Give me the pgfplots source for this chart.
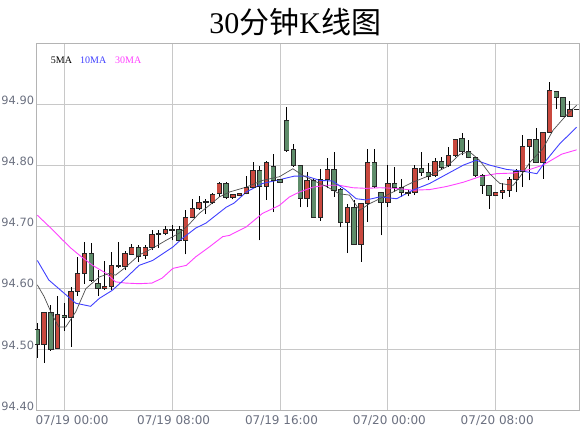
\documentclass[border=0pt]{standalone}
\usepackage{fontspec}
\setmainfont{DejaVu Sans}
\newfontfamily\cjk{Noto Sans CJK SC}
\newfontfamily\tserif{Liberation Serif}
\usepackage{pgfplots}
\usepackage{pgfplotstable}
\pgfplotsset{compat=1.18}

\definecolor{upred}{HTML}{C9483E}
\definecolor{downgreen}{HTML}{5E8C6A}
\definecolor{edge}{HTML}{262626}
\definecolor{tickgray}{HTML}{6B7080}
\definecolor{gridgray}{HTML}{C8C8C8}
\definecolor{ma5}{HTML}{505050}
\definecolor{ma10}{HTML}{4040FF}
\definecolor{ma30}{HTML}{FF40FF}

% 30 min candles: index, open, high, low, close
\pgfplotstableread{
i o h l c
1 94.508 94.560 94.478 94.560
3 94.501 94.587 94.501 94.556
5 94.552 94.602 94.504 94.595
6 94.595 94.651 94.587 94.624
7 94.624 94.675 94.607 94.656
10 94.599 94.644 94.597 94.603
11 94.603 94.659 94.597 94.637
12 94.635 94.675 94.632 94.637
13 94.635 94.660 94.629 94.656
14 94.655 94.672 94.654 94.667
16 94.653 94.670 94.647 94.666
17 94.666 94.695 94.662 94.688
18 94.687 94.695 94.665 94.689
19 94.689 94.701 94.686 94.696
20 94.695 94.703 94.678 94.696
22 94.678 94.728 94.655 94.715
23 94.715 94.746 94.714 94.730
24 94.730 94.750 94.728 94.740
25 94.740 94.746 94.721 94.741
26 94.740 94.755 94.737 94.753
27 94.754 94.773 94.749 94.771
29 94.748 94.754 94.745 94.753
30 94.752 94.756 94.750 94.755
31 94.755 94.783 94.753 94.764
32 94.764 94.806 94.763 94.793
34 94.766 94.808 94.744 94.805
40 94.746 94.790 94.732 94.776
42 94.716 94.795 94.710 94.777
43 94.777 94.813 94.763 94.794
46 94.708 94.738 94.657 94.732
48 94.672 94.738 94.643 94.738
49 94.738 94.828 94.708 94.805
52 94.740 94.801 94.733 94.771
56 94.756 94.801 94.752 94.795
59 94.784 94.812 94.782 94.807
61 94.800 94.831 94.798 94.817
62 94.817 94.844 94.815 94.843
68 94.752 94.757 94.751 94.756
69 94.756 94.771 94.746 94.760
70 94.760 94.782 94.749 94.777
71 94.777 94.795 94.757 94.791
72 94.791 94.850 94.765 94.832
73 94.832 94.844 94.776 94.843
75 94.806 94.854 94.779 94.854
76 94.854 94.937 94.854 94.923
79 94.881 94.906 94.880 94.892
80 94.892 94.893 94.891 94.892
}\up

\pgfplotstableread{
i o h l c
0 94.532 94.542 94.486 94.508
2 94.560 94.572 94.497 94.500
4 94.555 94.575 94.530 94.552
8 94.656 94.673 94.610 94.613
9 94.607 94.630 94.587 94.599
15 94.666 94.670 94.643 94.652
21 94.696 94.701 94.677 94.678
28 94.771 94.773 94.745 94.748
33 94.793 94.799 94.678 94.766
35 94.799 94.819 94.724 94.776
36 94.777 94.778 94.772 94.772
37 94.874 94.896 94.823 94.825
38 94.826 94.835 94.798 94.800
39 94.800 94.801 94.732 94.746
41 94.776 94.778 94.716 94.716
44 94.794 94.823 94.749 94.759
45 94.761 94.763 94.699 94.708
47 94.732 94.744 94.672 94.672
50 94.805 94.828 94.763 94.766
51 94.757 94.757 94.686 94.740
53 94.771 94.798 94.757 94.765
54 94.765 94.779 94.749 94.756
55 94.756 94.760 94.750 94.755
57 94.795 94.823 94.783 94.789
58 94.789 94.805 94.776 94.783
60 94.807 94.815 94.795 94.798
63 94.844 94.854 94.817 94.823
64 94.823 94.842 94.812 94.814
65 94.814 94.815 94.782 94.784
66 94.784 94.787 94.754 94.768
67 94.768 94.768 94.730 94.752
74 94.843 94.861 94.806 94.806
77 94.921 94.923 94.893 94.911
78 94.911 94.913 94.881 94.881
}\down

% #1 table, #2 fill colour, #3 lower end of body, #4 upper end of body
\newcommand\candles[4]{%
  \addplot[draw=none, mark=none, forget plot,
    error bars/.cd, y dir=plus, y explicit, error mark=none,
    error bar style={draw=black, line width=0.8bp}]
    table[x=i, y=l, y error expr=\thisrow{h}-\thisrow{l}] {#1};
  \addplot[draw=none, mark=none, forget plot,
    error bars/.cd, y dir=plus, y explicit, error mark=none,
    error bar style={draw=edge, line width=5.4bp}]
    table[x=i, y=#3, y error expr=\thisrow{#4}-\thisrow{#3}] {#1};
  \addplot[draw=none, mark=none, forget plot,
    error bars/.cd, y dir=plus, y explicit, error mark=none,
    error bar style={draw=#2, line width=3.8bp}]
    table[x=i, y=#3, y error expr=\thisrow{#4}-\thisrow{#3}] {#1};
  \addplot[only marks, mark=-, mark size=2.7bp, forget plot,
    mark options={draw=edge, line width=0.8bp}] table[x=i, y=o] {#1};
  \addplot[only marks, mark=-, mark size=2.7bp, forget plot,
    mark options={draw=edge, line width=0.8bp}] table[x=i, y=c] {#1};
}

\begin{document}
\begin{tikzpicture}
  \path[use as bounding box] (-36bp,-20.8bp) rectangle (546bp,410.2bp);
  \begin{axis}[
    scale only axis,
    width=543.3bp, height=366.7bp,
    xmin=-0.2, xmax=80.4,
    ymin=94.4, ymax=95.0,
    xtick={4,20,36,52,68},
    xticklabels={\hspace*{12.4bp}07/19 00:00, 07/19 08:00, 07/19 16:00, 07/20 00:00, 07/20 08:00},
    ytick={94.4,94.5,94.6,94.7,94.8,94.9},
    yticklabels={94.40,94.50,94.60,94.70,94.80,94.90},
    major tick length=0pt,
    grid=major,
    major grid style={gridgray, line width=0.8bp},
    axis line style={draw=gridgray!90!black, line width=0.8bp},
    xticklabel style={font=\fontsize{12bp}{14bp}\selectfont, text=tickgray,
      anchor=north, inner sep=0pt, yshift=-5bp, xshift=1.5bp},
    yticklabel style={font=\fontsize{11.4bp}{13bp}\selectfont, text=tickgray,
      anchor=base east, inner sep=0pt, xshift=-1.7bp},
    clip=true,
  ]
    \candles{\down}{downgreen}{c}{o}
    \candles{\up}{upred}{o}{c}

    % 30MA
    \addplot[ma30, line width=0.9bp, mark=none] coordinates {
      (0,94.719)(2.0,94.698)(3.7,94.679)(5.0,94.665)(6.2,94.654)(8.2,94.637)
      (10.2,94.624)(11.6,94.610)(13.1,94.608)(15.1,94.607)(17.0,94.608)
      (18.5,94.616)(20.1,94.632)(22.1,94.637)(23.5,94.651)(25.5,94.667)
      (27.5,94.684)(28.5,94.686)(31.0,94.700)(33.4,94.722)(35.9,94.735)
      (37.4,94.749)(38.9,94.757)(40.9,94.765)(42.9,94.768)(44.8,94.768)
      (46.8,94.764)(48.8,94.763)(50.8,94.764)(53.3,94.763)(55.7,94.760)
      (58.2,94.761)(60.7,94.766)(63.2,94.773)(65.6,94.782)(68.1,94.787)
      (70.6,94.788)(73.1,94.794)(75.0,94.801)(77.8,94.819)(80,94.826)
    };
    % 10MA
    \addplot[ma10, line width=0.9bp, mark=none] coordinates {
      (0,94.645)(1.7,94.613)(3.7,94.594)(5.7,94.575)(7.9,94.570)(9.2,94.583)
      (11.1,94.596)(13.1,94.616)(15.1,94.637)(17.1,94.645)(18.6,94.656)
      (20.1,94.667)(21.5,94.681)(23.5,94.698)(25.0,94.706)(26.5,94.719)
      (28.0,94.732)(29.2,94.739)(31.0,94.757)(33.4,94.771)(35.9,94.777)
      (38.1,94.783)(39.9,94.783)(41.9,94.776)(43.8,94.775)(45.8,94.760)
      (47.3,94.746)(48.8,94.744)(50.8,94.749)(53.3,94.746)(55.7,94.760)
      (58.2,94.771)(60.7,94.786)(63.2,94.801)(65.1,94.809)(67.1,94.801)
      (69.6,94.794)(72.1,94.791)(74.1,94.787)(75.5,94.809)(77.5,94.836)(80,94.863)
    };
    % 5MA
    \addplot[ma5, line width=0.7bp, mark=none] coordinates {
      (0,94.605)(1.0,94.586)(2.2,94.556)(3.2,94.536)(4.2,94.536)(5.7,94.561)
      (7.2,94.599)(9.2,94.618)(10.7,94.624)(11.6,94.621)(13.1,94.634)
      (15.1,94.654)(17.1,94.665)(19.1,94.678)(21.1,94.690)(22.5,94.704)
      (24.0,94.722)(25.5,94.735)(27.0,94.749)(28.5,94.757)(31.0,94.765)
      (33.4,94.776)(35.9,94.782)(37.9,94.795)(39.4,94.784)(40.9,94.776)
      (42.9,94.766)(44.8,94.754)(46.3,94.752)(47.8,94.727)(49.3,94.738)
      (50.8,94.746)(53.3,94.760)(55.7,94.773)(58.2,94.784)(60.7,94.798)
      (62.7,94.819)(64.1,94.823)(65.6,94.809)(67.1,94.787)(68.6,94.771)
      (70.6,94.768)(71.6,94.782)(73.1,94.806)(75.0,94.828)(76.5,94.858)
      (78.5,94.883)(80,94.899)
    };
  \end{axis}
  % title and moving-average key
  \node[inner sep=0pt] at (259.3bp,388bp)
    {\fontsize{30bp}{36bp}\selectfont{\tserif 30}{\cjk 分钟}{\tserif K}{\cjk 线图}};
  \node[anchor=west, inner sep=0pt] at (14.7bp,350bp)
    {\tserif\fontsize{10bp}{11bp}\selectfont 5MA};
  \node[anchor=west, inner sep=0pt, text=ma10] at (44bp,350bp)
    {\tserif\fontsize{10bp}{11bp}\selectfont 10MA};
  \node[anchor=west, inner sep=0pt, text=ma30] at (79bp,350bp)
    {\tserif\fontsize{10bp}{11bp}\selectfont 30MA};
\end{tikzpicture}
\end{document}
